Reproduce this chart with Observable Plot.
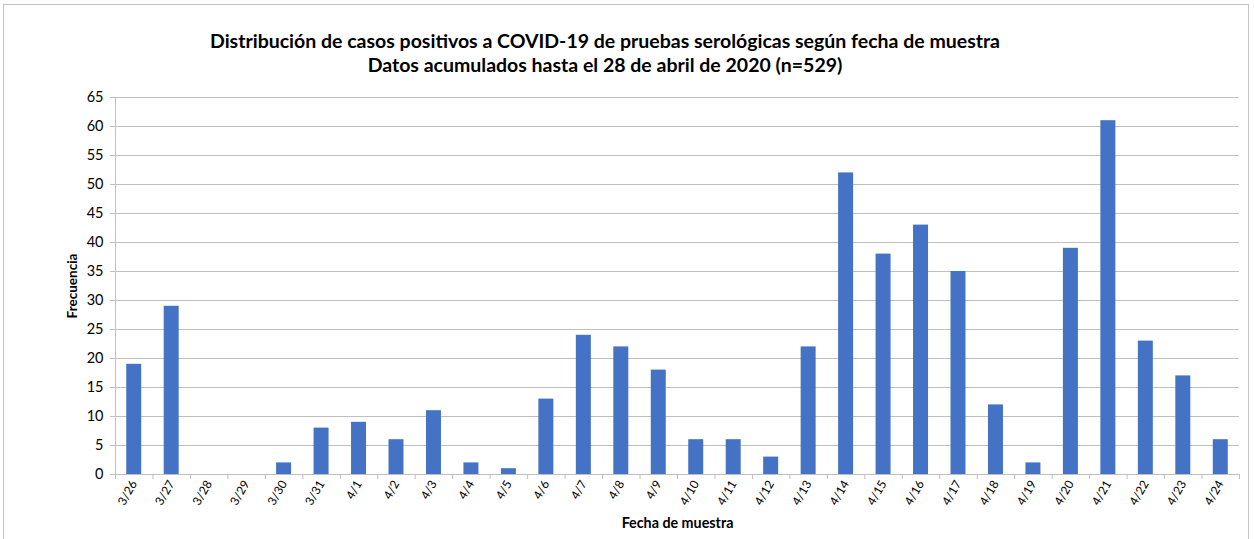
<!DOCTYPE html>
<html><head><meta charset="utf-8">
<script src="https://cdn.jsdelivr.net/npm/d3@7"></script>
<script src="https://cdn.jsdelivr.net/npm/@observablehq/plot@0.6"></script>
<style>
body{margin:0;background:#fff;font-family:Lato, "Open Sans", sans-serif;}
#wrap{position:relative;width:1254px;height:539px;overflow:hidden;}
#border{position:absolute;left:3px;top:4px;width:1246px;height:540px;border:1px solid #c4c4c4;box-sizing:border-box;}
#title{position:absolute;left:0;top:29px;width:1210px;text-align:center;font-weight:bold;font-size:19.5px;line-height:24px;color:#000;}
#chart{position:absolute;left:0;top:0;}
</style></head>
<body>
<div id="wrap"><div id="border"></div><div id="chart"></div>
<div id="title">Distribución de casos positivos a COVID-19 de pruebas serológicas según fecha de muestra<br>Datos acumulados hasta el 28 de abril de 2020 (n=529)</div></div>
<script>
const fechas = ["3/26","3/27","3/28","3/29","3/30","3/31","4/1","4/2","4/3","4/4","4/5","4/6","4/7","4/8","4/9","4/10","4/11","4/12","4/13","4/14","4/15","4/16","4/17","4/18","4/19","4/20","4/21","4/22","4/23","4/24"];
const casos = [19,29,0,0,2,8,9,6,11,2,1,13,24,22,18,6,6,3,22,52,38,43,35,12,2,39,61,23,17,6];
const yTicks = [0,5,10,15,20,25,30,35,40,45,50,55,60,65];
const data = fechas.map((f,i)=>({fecha:f, casos:casos[i]}));

const W=1254,H=539,mL=115,mR=15,mT=97,mB=65;
const step=(W-mL-mR)/fechas.length;
const grid="#bfbfbf";
const plot = Plot.plot({
  width:W, height:H, marginLeft:mL, marginRight:mR, marginTop:mT, marginBottom:mB,
  style:{fontFamily:"Lato, sans-serif", fontSize:"12.5px", color:"#404040", background:"transparent"},
  x:{type:"band", domain:fechas, paddingInner:0.6, paddingOuter:0.3, round:false},
  y:{domain:[0,65]},
  marks:[
    Plot.gridY(yTicks,{stroke:grid, strokeOpacity:1, strokeWidth:1}),
    Plot.axisY(yTicks,{tickSize:5, stroke:grid, tickPadding:7, fill:"#000", fontSize:14.5, label:null}),
    Plot.ruleX([0],{x:()=>fechas[0], dx:-step/2, y1:0, y2:65, stroke:grid}),
    Plot.barY(data,{x:"fecha", y:"casos", fill:"#4472C4"}),
    Plot.ruleY([0],{stroke:grid}),
    Plot.axisX(fechas,{text:null, tickSize:5, stroke:grid, dx:-step/2, label:null}),
    Plot.axisX([fechas[fechas.length-1]],{text:null, tickSize:5, stroke:grid, dx:step/2, label:null}),
    Plot.axisX(fechas,{tickSize:0, tickRotate:-60, tickPadding:7, fill:"#000", fontSize:12, label:null}),
    Plot.text(["Frecuencia"],{frameAnchor:"left", textAnchor:"middle", dx:-43, rotate:-90, fontWeight:"bold", fontSize:13.5, fill:"#000"}),
    Plot.text(["Fecha de muestra"],{frameAnchor:"bottom", textAnchor:"middle", dy:53, fontWeight:"bold", fontSize:14.3, fill:"#000"})
  ]
});
document.getElementById("chart").appendChild(plot);
</script>
</body></html>
